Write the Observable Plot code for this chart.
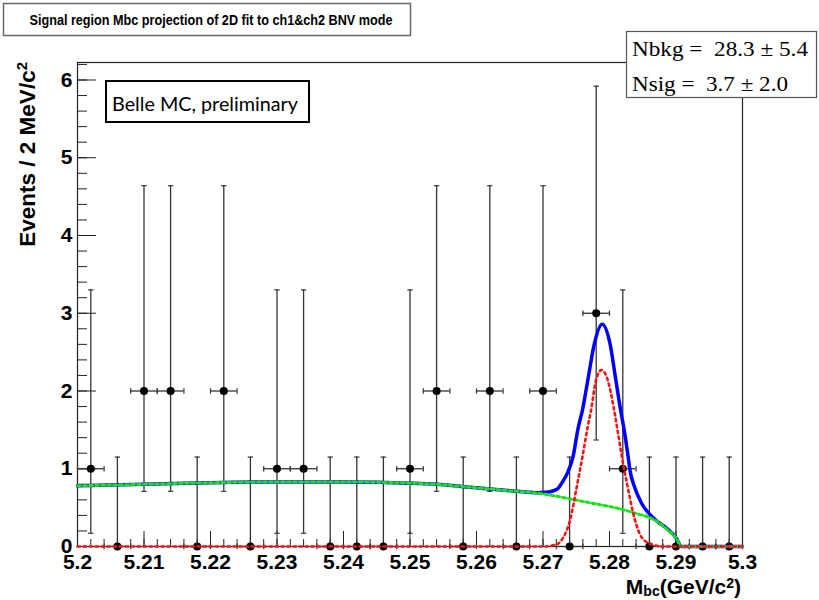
<!DOCTYPE html>
<html>
<head>
<meta charset="utf-8">
<script src="https://cdn.jsdelivr.net/npm/d3@7"></script>
<script src="https://cdn.jsdelivr.net/npm/@observablehq/plot@0.6"></script>
<style>
  html, body { margin: 0; padding: 0; background: #fff; }
  #wrap { position: relative; width: 819px; height: 600px; overflow: hidden; }
</style>
</head>
<body>
<div id="wrap"></div>
<script>
// ---------- text ----------
const titleText = "Signal region Mbc projection of 2D fit to ch1&ch2 BNV mode";
const statLines = ["Nbkg =\u00a0 28.3 \u00b1 5.4", "Nsig =\u00a0 3.7 \u00b1 2.0"];
const noteText = "Belle MC, preliminary";
const yTitleMain = "Events / 2 MeV/c";
const yTitleSup = "2";

// ---------- axis ticks ----------
const xMajor = [5.20, 5.21, 5.22, 5.23, 5.24, 5.25, 5.26, 5.27, 5.28, 5.29, 5.30];
const xLabels = ["5.2", "5.21", "5.22", "5.23", "5.24", "5.25", "5.26", "5.27", "5.28", "5.29", "5.3"];
const yMajor = [0, 1, 2, 3, 4, 5, 6];
const yLabels = ["0", "1", "2", "3", "4", "5", "6"];

// ---------- binned data (bin width 0.004) ----------
const binCenters = [5.202, 5.206, 5.210, 5.214, 5.218, 5.222, 5.226, 5.230, 5.234, 5.238,
                    5.242, 5.246, 5.250, 5.254, 5.258, 5.262, 5.266, 5.270, 5.274, 5.278,
                    5.282, 5.286, 5.290, 5.294, 5.298];
const counts    = [1, 0, 2, 2, 0, 2, 0, 1, 1, 0, 0, 0, 1, 2, 0, 2, 0, 2, 0, 3, 1, 0, 0, 0, 0];
const errLow    = [0.17, 0, 0.71, 0.71, 0, 0.71, 0, 0.17, 0.17, 0, 0, 0, 0.17, 0.71, 0, 0.71, 0, 0.71, 0, 1.37, 0.17, 0, 0, 0, 0];
const errHigh   = [3.30, 1.15, 4.64, 4.64, 1.15, 4.64, 1.15, 3.30, 3.30, 1.15, 1.15, 1.15, 3.30, 4.64, 1.15, 4.64, 1.15, 4.64, 1.15, 5.92, 3.30, 1.15, 1.15, 1.15, 1.15];
const binHalfWidth = 0.002;

// ---------- fit curves ----------
const totalX = [5.200, 5.210, 5.220, 5.230, 5.240, 5.250, 5.254, 5.258, 5.262, 5.266, 5.2695, 5.2708,
                5.2721, 5.2730, 5.2738, 5.2745, 5.2753, 5.2759, 5.2768, 5.2777, 5.2789, 5.2801, 5.2809,
                5.2817, 5.2822, 5.2827, 5.2831, 5.2837, 5.2848, 5.2868, 5.2888, 5.2901, 5.2908, 5.300];
const totalY = [0.78, 0.80, 0.82, 0.83, 0.83, 0.815, 0.80, 0.77, 0.74, 0.71, 0.69, 0.70,
                0.735, 0.84, 0.97, 1.15, 1.53, 1.74, 2.17, 2.60, 2.86, 2.60, 2.17,
                1.74, 1.50, 1.22, 0.97, 0.78, 0.56, 0.35, 0.22, 0.10, 0.00, 0.00];

const bkgX = [5.200, 5.210, 5.220, 5.230, 5.240, 5.250, 5.254, 5.258, 5.262, 5.266, 5.2695,
              5.2718, 5.2748, 5.2778, 5.2808, 5.2838, 5.2868, 5.2888, 5.2901, 5.2908, 5.300];
const bkgY = [0.78, 0.80, 0.82, 0.83, 0.83, 0.815, 0.80, 0.77, 0.74, 0.71, 0.683,
              0.65, 0.60, 0.55, 0.50, 0.43, 0.34, 0.21, 0.10, 0.00, 0.00];

const sigX = [5.200, 5.2700, 5.2721, 5.2730, 5.2741, 5.2751, 5.2760, 5.2767, 5.2772, 5.2780, 5.2788,
              5.2797, 5.2806, 5.2812, 5.2818, 5.2827, 5.2838, 5.2849, 5.2863, 5.2880, 5.300];
const sigY = [0.00, 0.00, 0.03, 0.11, 0.35, 0.78, 1.185, 1.53, 1.74, 2.15, 2.27,
              2.15, 1.80, 1.50, 1.185, 0.78, 0.35, 0.11, 0.03, 0.00, 0.00];

// ---------- layout ----------
const W = 819, H = 600;
const mL = 77, mR = 77, mT = 62, mB = 54;
const innerW = W - mL - mR, innerH = H - mT - mB;

const bins = binCenters.map((x, i) => ({x, n: counts[i], lo: errLow[i], hi: errHigh[i],
                                        xl: x - binHalfWidth, xr: x + binHalfWidth}));
const pts = (xs, ys) => xs.map((x, i) => ({x, y: ys[i]}));
const total = pts(totalX, totalY), bkg = pts(bkgX, bkgY), sig = pts(sigX, sigY);

const xMinor = d3.range(0, 51).map(i => +(5.2 + i * 0.002).toFixed(3));
const yMinor = d3.range(0, 32).map(i => +(i * 0.2).toFixed(1));
const xLab = new Map(xMajor.map((v, i) => [v.toFixed(2), xLabels[i]]));
const yLab = new Map(yMajor.map((v, i) => [String(v), yLabels[i]]));

const hCap = {draw(ctx, size) { const r = Math.sqrt(size) / 2; ctx.moveTo(-r, 0); ctx.lineTo(r, 0); }};
const vCap = {draw(ctx, size) { const r = Math.sqrt(size) / 2; ctx.moveTo(0, -r); ctx.lineTo(0, r); }};

const ink = "#222";
const FONT = "Liberation Sans, Arial, Helvetica, sans-serif";

const chart = Plot.plot({
  width: W, height: H,
  marginLeft: mL, marginRight: mR, marginTop: mT, marginBottom: mB,
  style: {background: "white", color: "black", overflow: "visible", fontFamily: FONT},
  x: {domain: [5.2, 5.3], axis: null},
  y: {domain: [0, 6.225], axis: null},
  marks: [
    Plot.frame({stroke: ink, strokeWidth: 1.2}),
    Plot.ruleX(xMinor, {x: d => d, insetTop: innerH - 7, stroke: ink, strokeWidth: 1}),
    Plot.ruleX(xMajor, {x: d => d, insetTop: innerH - 15, stroke: ink, strokeWidth: 1}),
    Plot.ruleY(yMinor, {y: d => d, insetRight: innerW - 10, stroke: ink, strokeWidth: 1}),
    Plot.ruleY(yMajor, {y: d => d, insetRight: innerW - 19, stroke: ink, strokeWidth: 1}),
    Plot.axisX({ticks: xMajor, tickSize: 0, tickPadding: 8, label: null,
                tickFormat: d => xLab.get((+d).toFixed(2)),
                fontSize: 21, fontWeight: "bold", fontFamily: FONT, fill: "black"}),
    Plot.axisY({ticks: yMajor, tickSize: 0, tickPadding: 5, label: null,
                tickFormat: d => yLab.get(String(d)),
                fontSize: 21, fontWeight: "bold", fontFamily: FONT, fill: "black"}),
    // vertical error bars with caps
    Plot.ruleX(bins, {x: "x", y1: "lo", y2: "hi", stroke: "#333", strokeWidth: 1.3}),
    Plot.dot(bins, {x: "x", y: "hi", symbol: hCap, r: 3, stroke: "#333", fill: "none", strokeWidth: 1.2}),
    Plot.dot(bins, {x: "x", y: "lo", symbol: hCap, r: 3, stroke: "#333", fill: "none", strokeWidth: 1.2}),
    // horizontal (bin width) bars with caps
    Plot.ruleY(bins, {y: "n", x1: "xl", x2: "xr", stroke: "#333", strokeWidth: 1.3}),
    Plot.dot(bins, {x: "xl", y: "n", symbol: vCap, r: 3, stroke: "#333", fill: "none", strokeWidth: 1.2}),
    Plot.dot(bins, {x: "xr", y: "n", symbol: vCap, r: 3, stroke: "#333", fill: "none", strokeWidth: 1.2}),
    Plot.dot(bins, {x: "x", y: "n", r: 4, fill: "black", stroke: "none"}),
    // fit curves
    Plot.line(total, {x: "x", y: "y", curve: "monotone-x", stroke: "#0000ff", strokeWidth: 3.5}),
    Plot.line(bkg, {x: "x", y: "y", curve: "monotone-x", stroke: "#1de01d", strokeWidth: 3, strokeDasharray: "3,3"}),
    Plot.line(sig, {x: "x", y: "y", curve: "monotone-x", stroke: "#f01414", strokeWidth: 2.6, strokeDasharray: "2.5,3.5"})
  ]
});

document.getElementById("wrap").appendChild(chart);

// ---------- annotations (boxes and titles) ----------
const svg = d3.select(chart);

// title box
svg.append("rect").attr("x", 3.5).attr("y", 3.5).attr("width", 407).attr("height", 32)
   .attr("fill", "white").attr("stroke", "#6a6a6a").attr("stroke-width", 1.5);
svg.append("text").attr("x", 211).attr("y", 25).attr("text-anchor", "middle")
   .attr("font-family", FONT).attr("font-weight", "bold").attr("font-size", 15)
   .attr("textLength", 363).attr("lengthAdjust", "spacingAndGlyphs")
   .attr("fill", "black").text(titleText);

// stats box
svg.append("rect").attr("x", 626.5).attr("y", 31.5).attr("width", 190).attr("height", 66)
   .attr("fill", "white").attr("stroke", "#555").attr("stroke-width", 1.2);
const statBase = [56, 91];
const statWidth = [176, 156];
statLines.forEach((s, i) => {
  svg.append("text").attr("x", 632).attr("y", statBase[i]).attr("text-anchor", "start")
     .attr("font-family", "Liberation Serif, Times New Roman, serif").attr("font-size", 21)
     .attr("textLength", statWidth[i]).attr("lengthAdjust", "spacingAndGlyphs")
     .attr("fill", "black").style("white-space", "pre").text(s);
});

// Belle MC note box
svg.append("rect").attr("x", 106).attr("y", 81).attr("width", 203).attr("height", 41)
   .attr("fill", "white").attr("stroke", "black").attr("stroke-width", 2);
svg.append("text").attr("x", 112).attr("y", 110.5).attr("text-anchor", "start")
   .attr("font-family", "Lato, Carlito, Open Sans, sans-serif").attr("font-size", 18.5)
   .attr("fill", "black").attr("textLength", 186).attr("lengthAdjust", "spacingAndGlyphs")
   .text(noteText);

// y axis title (rotated, aligned to top end)
const yt = svg.append("text").attr("transform", "translate(35,62) rotate(-90)")
   .attr("text-anchor", "end").attr("font-family", FONT).attr("font-weight", "bold")
   .attr("font-size", 22.5).attr("fill", "black");
yt.append("tspan").text(yTitleMain);
yt.append("tspan").attr("dy", -8).attr("font-size", 15).text(yTitleSup);

// x axis title M_bc(GeV/c^2), right aligned
const xt = svg.append("text").attr("x", 741).attr("y", 594).attr("text-anchor", "end")
   .attr("font-family", FONT).attr("font-weight", "bold").attr("font-size", 21).attr("fill", "black");
xt.append("tspan").text("M");
xt.append("tspan").attr("dy", 2).attr("font-size", 14).text("bc");
xt.append("tspan").attr("dy", -2).text("(GeV/c");
xt.append("tspan").attr("dy", -6).attr("font-size", 14).text("2");
xt.append("tspan").attr("dy", 6).text(")");
</script>
</body>
</html>
